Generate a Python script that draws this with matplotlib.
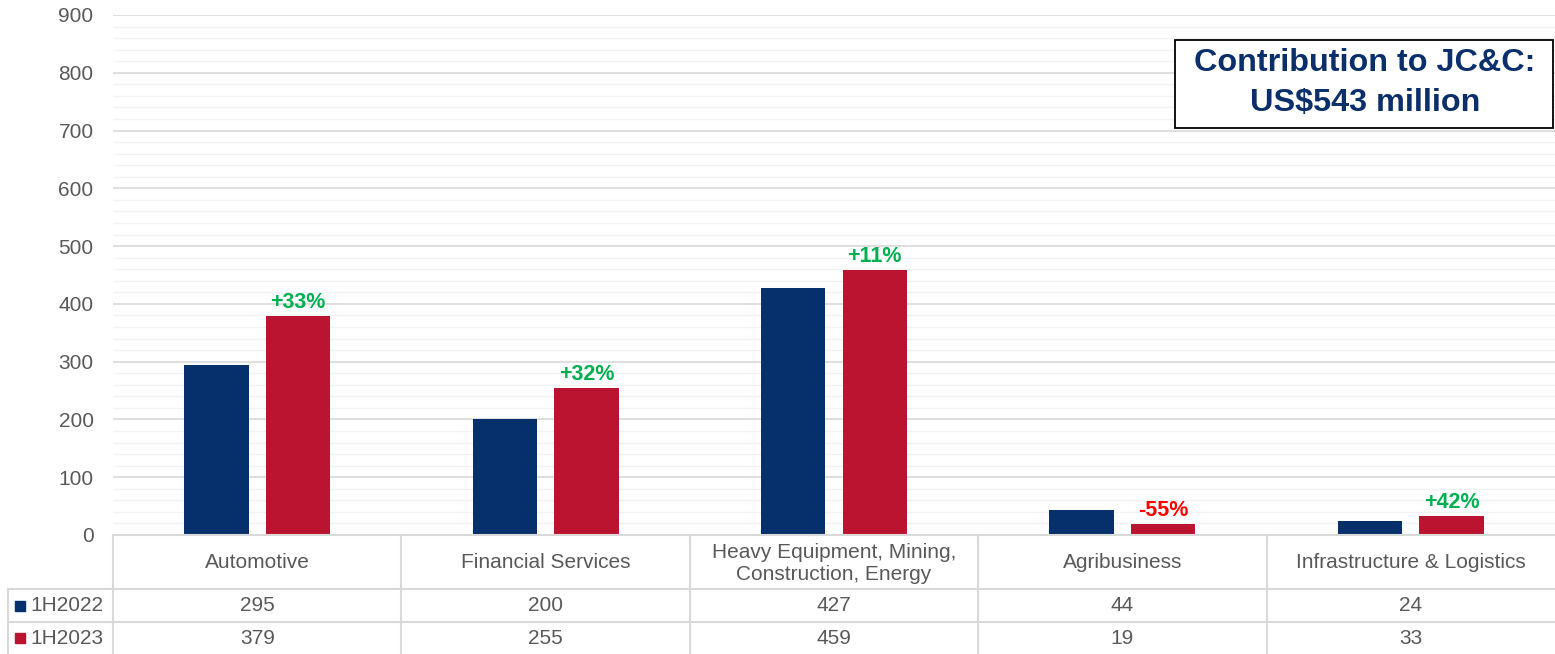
import matplotlib
matplotlib.use("Agg")
import matplotlib.pyplot as plt
import matplotlib.transforms as mtransforms
from matplotlib.patches import Rectangle
from matplotlib.lines import Line2D

plt.rcParams['font.family'] = ['Liberation Sans', 'DejaVu Sans']

categories = ["Automotive", "Financial Services", "Heavy Equipment, Mining,\nConstruction, Energy",
              "Agribusiness", "Infrastructure & Logistics"]
series_names = ["1H2022", "1H2023"]
values_2022 = [295, 200, 427, 44, 24]
values_2023 = [379, 255, 459, 19, 33]
changes = ["+33%", "+32%", "+11%", "-55%", "+42%"]
yticks = [0, 100, 200, 300, 400, 500, 600, 700, 800, 900]
box_lines = ["Contribution to JC&C:", "US$543 million"]

BLUE = "#06306C"
RED = "#BA1431"
GREEN = "#00B050"
NEG = "#FF0000"
TXT = "#595959"
LINE = "#D9D9D9"
NAVY = "#0A2F6B"

W, H = 1555, 654
fig = plt.figure(figsize=(W / 100, H / 100), dpi=100)

def fy(py):
    return 1 - py / H

def fx(px):
    return px / W

ax = fig.add_axes([fx(113), fy(535), 1 - fx(113), fy(15) - fy(535)])
x = list(range(len(categories)))
bw = 0.223
off = 0.1415
ax.bar([i - off for i in x], values_2022, bw, color=BLUE, zorder=3)
ax.bar([i + off for i in x], values_2023, bw, color=RED, zorder=3)

for i, (v, c) in enumerate(zip(values_2023, changes)):
    col = NEG if c.startswith("-") else GREEN
    ax.annotate(c, (i + off, v), xytext=(0, 2), textcoords="offset points",
                ha="center", va="bottom", fontsize=15.5, fontweight="bold", color=col)

ax.set_xlim(-0.5, len(categories) - 0.5)
ax.set_ylim(0, 900)
ax.set_yticks(yticks)
ax.set_yticks(range(0, 901, 20), minor=True)
ax.grid(axis="y", which="major", color=LINE, lw=1.2, zorder=1)
ax.grid(axis="y", which="minor", color="#F2F2F2", lw=1.0, zorder=0)
ax.tick_params(axis="y", which="both", length=0, labelsize=15, labelcolor=TXT, pad=14)
ax.tick_params(axis="x", length=0, labelbottom=False)
for s in ax.spines.values():
    s.set_visible(False)
ax.axhline(0, color=LINE, lw=1.5, zorder=4, clip_on=False)

# data table below the plot
tr = mtransforms.blended_transform_factory(ax.transData, fig.transFigure)
for py in [589, 622]:
    fig.add_artist(Line2D([fx(8), 1], [fy(py), fy(py)], color=LINE, lw=1.5))
for i in range(len(categories)):
    fig.add_artist(Line2D([i - 0.5, i - 0.5], [fy(535), fy(654)], color=LINE, lw=1.5,
                          transform=tr))
fig.add_artist(Line2D([fx(8), fx(8)], [fy(589), fy(654)], color=LINE, lw=1.5))

for i, cat in enumerate(categories):
    fig.text(i, fy(563), cat, transform=tr, ha="center", va="center",
             fontsize=15, color=TXT, linespacing=1.2)
    fig.text(i, fy(605.5), str(values_2022[i]), transform=tr, ha="center", va="center",
             fontsize=15, color=TXT)
    fig.text(i, fy(638), str(values_2023[i]), transform=tr, ha="center", va="center",
             fontsize=15, color=TXT)

for name, col, py in zip(series_names, [BLUE, RED], [605.5, 638]):
    fig.add_artist(Rectangle((fx(15), fy(py + 5)), fx(10), 10 / H, color=col))
    fig.text(fx(30), fy(py), name, ha="left", va="center", fontsize=15, color=TXT)

# annotation box
fig.add_artist(Rectangle((fx(1175), fy(128)), fx(1553 - 1175), (128 - 40) / H,
                         facecolor="white", edgecolor="black", lw=1.3, zorder=5))
for line, py in zip(box_lines, [63, 103]):
    fig.text(fx(1365), fy(py), line, ha="center", va="center", fontsize=23.3,
             fontweight="bold", color=NAVY, zorder=6)

fig.savefig("out.png", dpi=100)
